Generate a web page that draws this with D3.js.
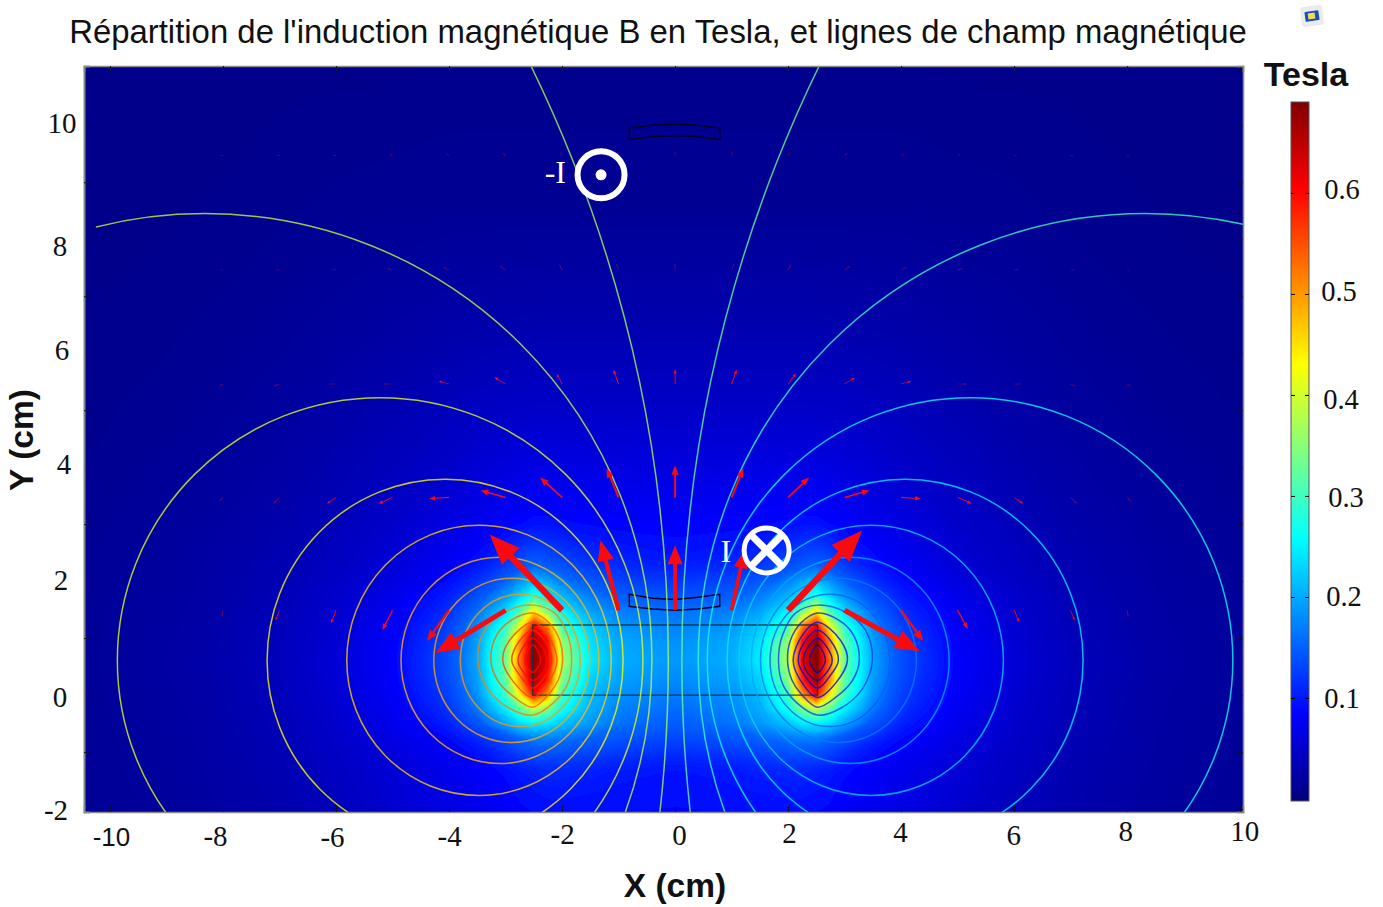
<!DOCTYPE html>
<html>
<head>
<meta charset="utf-8">
<script src="https://cdn.jsdelivr.net/npm/d3@7"></script>
<style>
  html, body { margin: 0; padding: 0; background: #fff; }
  svg { display: block; }
  text { font-family: "Liberation Serif", serif; fill: #111; }
</style>
</head>
<body>
<div id="chart"></div>
<script>
// |B| in Tesla. The map is mirror symmetric about x = 0, only x >= 0 is listed
var fieldX = [0, 1, 1.5, 2, 2.25, 2.5, 2.75, 3, 3.5, 4, 5, 6, 7, 8.5, 10.7];
var fieldY = [-2.2, -1.25, -0.75, -0.5, -0.25, 0, 0.25, 0.6, 0.95, 1.2, 1.45, 1.75, 2.25, 3, 4, 5, 6.5, 8.5, 11.2];
var fieldB = [
  [.088, .09, .09, .09, .09, .088, .085, .08, .074, .068, .054, .04, .031, .022, .014],
  [.1, .105, .11, .115, .115, .11, .105, .095, .085, .075, .06, .046, .035, .024, .015],
  [.135, .145, .155, .17, .175, .175, .16, .14, .11, .09, .068, .05, .037, .025, .015],
  [.15, .165, .19, .22, .245, .25, .235, .2, .145, .108, .074, .052, .038, .025, .015],
  [.16, .175, .205, .27, .34, .39, .32, .25, .17, .12, .078, .054, .039, .026, .016],
  [.17, .185, .215, .3, .5, .6, .43, .3, .185, .128, .082, .056, .04, .026, .016],
  [.18, .195, .23, .34, .58, .67, .5, .32, .195, .135, .085, .058, .041, .027, .016],
  [.19, .205, .25, .38, .62, .69, .52, .33, .2, .14, .087, .06, .042, .028, .016],
  [.185, .2, .24, .36, .6, .68, .5, .32, .195, .135, .085, .058, .041, .027, .016],
  [.175, .19, .225, .3, .52, .62, .42, .29, .185, .128, .082, .056, .04, .026, .016],
  [.165, .175, .2, .26, .35, .46, .32, .24, .165, .118, .078, .054, .039, .026, .016],
  [.14, .15, .17, .21, .25, .28, .23, .19, .14, .105, .072, .052, .038, .025, .015],
  [.105, .115, .125, .14, .15, .16, .145, .125, .1, .083, .06, .046, .035, .024, .015],
  [.085, .087, .09, .093, .095, .095, .09, .085, .075, .068, .052, .04, .031, .022, .014],
  [.065, .066, .067, .068, .068, .068, .066, .063, .058, .052, .042, .033, .026, .019, .012],
  [.05, .05, .05, .05, .05, .05, .049, .048, .046, .042, .034, .028, .022, .016, .011],
  [.033, .033, .033, .033, .033, .033, .032, .032, .03, .029, .025, .021, .017, .013, .01],
  [.016, .016, .016, .016, .016, .016, .016, .016, .016, .016, .015, .014, .012, .01, .009],
  [.01, .01, .01, .01, .01, .01, .01, .01, .01, .01, .009, .009, .009, .009, .009]
];

// outer field lines are close to ellipses around a point on y = 0.61, |x| of centre and radii in cm
var loopCenterY = 0.61;
var loopCenter = [24.12, 8.32, 5.22, 4.07, 3.47, 3.1, 2.89, 2.74];
var loopRadiusX = [24, 7.91, 4.65, 3.15, 2.34, 1.75, 1.38, 1.06];
var loopRadiusY = [23.79, 7.84, 4.61, 3.18, 2.37, 1.81, 1.44, 1.16];
// inner field lines next to the conductor, points are [|x|, y] in cm
var innerLines = [
  [[3.49, .61], [3.37, 1.14], [3.01, 1.46], [2.52, 1.58], [2.13, 1.44], [1.9, 1.05], [1.83, .61], [1.91, .18], [2.16, -.14], [2.52, -.35], [2.93, -.23], [3.32, .12]],
  [[3.26, .61], [3.16, 1.05], [2.89, 1.32], [2.52, 1.44], [2.22, 1.26], [2.04, .96], [1.99, .61], [2.07, .26], [2.25, 0], [2.52, -.21], [2.84, -.04], [3.14, .26]],
  [[3.05, .61], [2.93, .96], [2.52, 1.28], [2.25, 1.05], [2.09, .61], [2.22, .26], [2.52, -.04], [2.84, .21]],
  [[2.89, .61], [2.75, .96], [2.52, 1.14], [2.29, .93], [2.18, .61], [2.29, .35], [2.52, .12], [2.75, .35]],
  [[2.78, .61], [2.66, .88], [2.52, 1], [2.34, .82], [2.27, .61], [2.34, .4], [2.52, .26], [2.66, .37]],
  [[2.66, .61], [2.52, .88], [2.38, .61], [2.52, .4]]
];
// value of the colour scale each line takes, the ellipses first
var lineLevelLeft = [.37, .39, .41, .43, .46, .48, .49, .5, .52, .54, .56, .58, .6, .6];
var lineLevelRight = [.33, .3, .27, .25, .23, .2, .17, .15, .13, .11, .09, .07, .05, .03];

// force arrows, one row for every y, [dx, dy] in cm for every arrowX
var arrowX = [-8, -7, -6, -5, -4, -3, -2, -1, 0, 1, 2, 3, 4, 5, 6, 7, 8];
var arrowY = [1.49, 3.47, 5.46, 7.46, 9.47];
var arrowRows = [
  [[-.02, -.12], [-.07, -.18], [-.09, -.23], [-.18, -.35], [-.39, -.54], [-1.24, -.75], [-1.28, 1.33], [-.32, 1.23], [0, 1.14], [.23, 1.05], [1.31, 1.4], [1.33, -.72], [.39, -.54], [.18, -.33], [.09, -.21], [.07, -.18], [.02, -.12]],
  [[-.07, -.07], [-.11, -.11], [-.16, -.11], [-.25, -.11], [-.35, -.02], [-.44, .12], [-.39, .35], [-.21, .51], [0, .56], [.21, .51], [.37, .35], [.44, .12], [.35, -.02], [.25, -.11], [.16, -.11], [.11, -.11], [.07, -.07]],
  [[-.07, -.04], [-.11, -.04], [-.12, 0], [-.16, 0], [-.18, .05], [-.2, .12], [-.09, .18], [-.09, .25], [0, .26], [.09, .25], [.14, .19], [.18, .11], [.18, .05], [.16, 0], [.12, 0], [.09, -.04], [.07, -.04]],
  [[-.05, 0], [-.07, 0], [-.08, .02], [-.09, .03], [-.1, .05], [-.1, .07], [-.05, .1], [-.04, .11], [0, .12], [.04, .11], [.05, .1], [.1, .07], [.1, .05], [.09, .03], [.08, .02], [.07, 0], [.05, 0]],
  [[-.04, 0], [-.05, 0], [-.05, .01], [-.05, .02], [-.05, .03], [-.05, .04], [-.03, .06], [-.02, .07], [0, .08], [.02, .07], [.03, .06], [.05, .04], [.05, .03], [.05, .02], [.05, .01], [.05, 0], [.04, 0]]
];

// outline of the coil frame and the two sliding pieces
var frameOutline = [[-2.52, 0], [2.52, 0], [2.52, 1.23], [-2.52, 1.23]];
var upperPiece = [[-.81, 9.95], [-.4, 10], [0, 10.02], [.4, 10], [.79, 9.95], [.79, 9.75], [.4, 9.8], [0, 9.82], [-.4, 9.8], [-.81, 9.75]];
var lowerPiece = [[-.81, 1.77], [-.4, 1.7], [0, 1.68], [.4, 1.72], [.79, 1.77], [.79, 1.56], [.4, 1.51], [0, 1.49], [-.4, 1.51], [-.81, 1.56]];

var xTicks = [-10, -8, -6, -4, -2, 0, 2, 4, 6, 8, 10];
var yTicks = [-2, 0, 2, 4, 6, 8, 10];
var yMinorTicks = [-1, 1, 3, 5, 7, 9];
var barTicks = [.1, .2, .3, .4, .5, .6];
var colorStops = [0, .086, .259, .431, .604, .69];
var colorNames = ["#000080", "#0000ff", "#00ffff", "#ffff00", "#ff0000", "#800000"];

var svgWidth = 1383;
var svgHeight = 907;
var plot = { left: 84, right: 1243, top: 66, bottom: 812 };

var svg = d3.select("#chart").append("svg")
  .attr("width", svgWidth)
  .attr("height", svgHeight);

var x = d3.scaleLinear().domain([-10.46, 10.05]).range([plot.left, plot.right]);
var y = d3.scaleLinear().domain([-2.05, 11.04]).range([plot.bottom, plot.top]);
var color = d3.scaleLinear().domain(colorStops).range(colorNames).clamp(true);

var defs = svg.append("defs");
defs.append("clipPath").attr("id", "plotClip").append("rect")
  .attr("x", plot.left).attr("y", plot.top)
  .attr("width", plot.right - plot.left).attr("height", plot.bottom - plot.top);
// the mesh stops a little inside the left edge, so do the field lines
defs.append("clipPath").attr("id", "lineClip").append("rect")
  .attr("x", x(-10.25)).attr("y", plot.top)
  .attr("width", plot.right - x(-10.25)).attr("height", plot.bottom - plot.top);
function addBlur(id, sd) {
  defs.append("filter").attr("id", id)
    .attr("filterUnits", "userSpaceOnUse")
    .attr("x", 0).attr("y", 0).attr("width", svgWidth).attr("height", svgHeight)
    .append("feGaussianBlur").attr("stdDeviation", sd);
}
addBlur("softFar", 7);
addBlur("softNear", 1.2);

var chart = svg.append("g").attr("clip-path", "url(#plotClip)");

// background map, filled contours of the grid
var fullX = fieldX.slice(1).reverse().map(d => -d).concat(fieldX);
var flat = [];
fieldB.forEach(function(row) {
  row.slice(1).reverse().concat(row).forEach(d => flat.push(d));
});
var nx = fullX.length;
var ny = fieldY.length;
var gridX = d3.scaleLinear().domain(d3.range(nx).map(i => i + 0.5)).range(fullX).clamp(true);
var gridY = d3.scaleLinear().domain(d3.range(ny).map(i => i + 0.5)).range(fieldY).clamp(true);
var gridPath = d3.geoPath(d3.geoTransform({
  point: function(a, b) { this.stream.point(x(gridX(a)), y(gridY(b))); }
}));
var contours = d3.contours().size([nx, ny]).thresholds(d3.range(.004, .69, .003))(flat);

chart.append("rect")
  .attr("x", plot.left).attr("y", plot.top)
  .attr("width", plot.right - plot.left).attr("height", plot.bottom - plot.top)
  .attr("fill", color(.008));
// far field gets a wide blur so the grid facets do not show
chart.append("g").attr("filter", "url(#softFar)")
  .selectAll("path").data(contours.filter(d => d.value < .16)).enter().append("path")
  .attr("d", gridPath)
  .attr("fill", d => color(d.value));
chart.append("g").attr("filter", "url(#softNear)")
  .selectAll("path").data(contours.filter(d => d.value >= .16)).enter().append("path")
  .attr("d", gridPath)
  .attr("fill", d => color(d.value));

// coil frame
var lineOf = d3.line().x(d => x(d[0])).y(d => y(d[1]));
chart.append("path")
  .attr("d", lineOf(frameOutline) + "Z")
  .attr("fill", "none").attr("stroke", "#10303a").attr("stroke-width", 1.4).attr("opacity", .85);
[upperPiece, lowerPiece].forEach(function(p) {
  chart.append("path")
    .attr("d", lineOf(p) + "Z")
    .attr("fill", "none").attr("stroke", "#000020").attr("stroke-width", 1.5);
});

// field lines
var lines = chart.append("g").attr("clip-path", "url(#lineClip)")
  .attr("fill", "none").attr("stroke-opacity", .78).attr("stroke-width", 1.5);
var sides = [[-1, lineLevelLeft], [1, lineLevelRight]];
sides.forEach(function(s) {
  loopCenter.forEach(function(c, i) {
    lines.append("ellipse")
      .attr("cx", x(s[0] * c))
      .attr("cy", y(loopCenterY))
      .attr("rx", x(loopRadiusX[i]) - x(0))
      .attr("ry", y(0) - y(loopRadiusY[i]))
      .attr("stroke", color(s[1][i]));
  });
  var closedCurve = d3.line().x(d => x(s[0] * d[0])).y(d => y(d[1])).curve(d3.curveCatmullRomClosed.alpha(.5));
  innerLines.forEach(function(p, i) {
    lines.append("path")
      .attr("d", closedCurve(p))
      .attr("stroke", color(s[1][i + loopCenter.length]));
  });
});

// arrows, shaft and head scale with the length
arrowRows.forEach(function(row, r) {
  row.forEach(function(v, i) {
    var x0 = x(arrowX[i]), y0 = y(arrowY[r]);
    var x1 = x(arrowX[i] + v[0]), y1 = y(arrowY[r] + v[1]);
    var len = Math.hypot(x1 - x0, y1 - y0);
    if (len === 0) return;
    var ux = (x1 - x0) / len, uy = (y1 - y0) / len;
    var sw = Math.max(len * .03, .35), hw = len * .115, hl = len * .29;
    var bx = x1 - ux * hl, by = y1 - uy * hl;
    var pts = [
      [x0 - uy * sw, y0 + ux * sw], [bx - uy * sw, by + ux * sw],
      [bx - uy * hw, by + ux * hw], [x1, y1],
      [bx + uy * hw, by - ux * hw], [bx + uy * sw, by - ux * sw],
      [x0 + uy * sw, y0 - ux * sw]
    ];
    chart.append("path")
      .attr("d", d3.line()(pts) + "Z")
      .attr("fill", "#f80a10")
      .attr("opacity", len < 10 ? .55 : 1);
  });
});

// current markers
var upMark = chart.append("g").attr("transform", `translate(${x(-1.31)},${y(9.13)})`);
upMark.append("circle").attr("r", 23.5).attr("fill", "none").attr("stroke", "#fff").attr("stroke-width", 6);
upMark.append("circle").attr("r", 5.5).attr("fill", "#fff");
chart.append("text").attr("x", x(-2.12)).attr("y", y(9.17)).attr("dy", ".33em")
  .attr("font-size", 32).attr("text-anchor", "middle").style("fill", "#fff").text("-I");

var downMark = chart.append("g").attr("transform", `translate(${x(1.62)},${y(2.54)})`);
downMark.append("circle").attr("r", 22.5).attr("fill", "none").attr("stroke", "#fff").attr("stroke-width", 5);
[[-15, -15, 15, 15], [-15, 15, 15, -15]].forEach(function(c) {
  downMark.append("line").attr("x1", c[0]).attr("y1", c[1]).attr("x2", c[2]).attr("y2", c[3])
    .attr("stroke", "#fff").attr("stroke-width", 7);
});
chart.append("text").attr("x", x(.9)).attr("y", y(2.52)).attr("dy", ".33em")
  .attr("font-size", 32).attr("text-anchor", "middle").style("fill", "#fff").text("I");

// axes, the tick labels sit a bit off their ticks in the original
var xLabelDx = [1, -8, -4, 0, 0, 4, 1, -1, -1, -2, 4];
var xLabelY = [837, 836, 837, 836, 834, 835, 833, 832, 835, 831, 831];
var yLabelX = [56, 60, 61, 64, 62, 60, 62];
var yLabelY = [810, 697, 580, 464, 350, 246, 123];

var noLabel = () => "";
var frame = svg.append("g");
var bottomAxis = frame.append("g").attr("transform", `translate(0,${plot.bottom})`)
  .call(d3.axisBottom(x).tickValues(xTicks).tickSize(-6).tickFormat(d => String(d)));
frame.append("g").attr("transform", `translate(0,${plot.top})`)
  .call(d3.axisTop(x).tickValues(xTicks).tickSize(-6).tickFormat(noLabel));
var leftAxis = frame.append("g").attr("transform", `translate(${plot.left},0)`)
  .call(d3.axisLeft(y).tickValues(yTicks).tickSize(-6).tickFormat(d => String(d)));
frame.append("g").attr("transform", `translate(${plot.left},0)`)
  .call(d3.axisLeft(y).tickValues(yMinorTicks).tickSize(-5).tickFormat(noLabel));
frame.append("g").attr("transform", `translate(${plot.right},0)`)
  .call(d3.axisRight(y).tickValues(yTicks.concat(yMinorTicks)).tickSize(-6).tickFormat(noLabel));
frame.selectAll(".domain").attr("stroke", "#8a8a8a").attr("stroke-width", 1.6);
frame.selectAll(".tick line").attr("stroke", "#101030");

bottomAxis.selectAll("text")
  .attr("font-size", 29)
  .attr("x", (d, i) => xLabelDx[i])
  .attr("y", (d, i) => xLabelY[i] - plot.bottom)
  .attr("dy", ".33em")
  .style("font-family", d => d === -10 ? '"Liberation Sans", sans-serif' : null)
  .attr("font-size", d => d === -10 ? 26 : 29)
  .style("fill", "#111");
leftAxis.selectAll("text")
  .attr("font-size", 29)
  .attr("text-anchor", "middle")
  .attr("x", (d, i) => yLabelX[i] - plot.left)
  .attr("dy", ".33em")
  .attr("transform", (d, i) => `translate(0,${yLabelY[i] - y(d)})`)
  .style("fill", "#111");

svg.append("text")
  .attr("x", 658).attr("y", 43).attr("text-anchor", "middle")
  .attr("font-size", 32.9)
  .style("font-family", '"Liberation Sans", sans-serif')
  .text("Répartition de l'induction magnétique B en Tesla, et lignes de champ magnétique");
svg.append("text")
  .attr("x", 675).attr("y", 897).attr("text-anchor", "middle")
  .attr("font-size", 33.5).attr("font-weight", "bold")
  .style("font-family", '"Liberation Sans", sans-serif')
  .text("X (cm)");
svg.append("text")
  .attr("transform", "translate(33,440) rotate(-90)").attr("text-anchor", "middle")
  .attr("font-size", 33.5).attr("font-weight", "bold")
  .style("font-family", '"Liberation Sans", sans-serif')
  .text("Y (cm)");
svg.append("text")
  .attr("x", 1306).attr("y", 86).attr("text-anchor", "middle")
  .attr("font-size", 34).attr("font-weight", "bold")
  .style("font-family", '"Liberation Sans", sans-serif')
  .text("Tesla");

// colour bar
var bar = { left: 1291, right: 1309, top: 102, bottom: 801 };
var barScale = d3.scaleLinear().domain([-.002, .69]).range([bar.bottom, bar.top]);
var gradient = defs.append("linearGradient").attr("id", "jet")
  .attr("x1", 0).attr("y1", 1).attr("x2", 0).attr("y2", 0);
gradient.selectAll("stop").data(colorStops).enter().append("stop")
  .attr("offset", d => d / .69)
  .attr("stop-color", d => color(d));
svg.append("rect")
  .attr("x", bar.left).attr("y", bar.top)
  .attr("width", bar.right - bar.left).attr("height", bar.bottom - bar.top)
  .attr("fill", "url(#jet)")
  .attr("stroke", "#555").attr("stroke-width", 1);
var barLabelX = [1342, 1344, 1346, 1341, 1339, 1342];
var barLabelY = [698, 596, 497, 399, 291, 189];
var barAxis = svg.append("g").attr("transform", `translate(${bar.left},0)`)
  .call(d3.axisLeft(barScale).tickValues(barTicks).tickSize(-4).tickFormat(d3.format(".1f")));
svg.append("g").attr("transform", `translate(${bar.right},0)`)
  .call(d3.axisRight(barScale).tickValues(barTicks).tickSize(-4).tickFormat(noLabel))
  .select(".domain").remove();
barAxis.select(".domain").remove();
barAxis.selectAll("text")
  .attr("font-size", 28.5)
  .attr("text-anchor", "middle")
  .attr("x", (d, i) => barLabelX[i] - bar.left)
  .attr("dy", ".33em")
  .attr("transform", (d, i) => `translate(0,${barLabelY[i] - barScale(d)})`)
  .style("fill", "#111");

// little window icon top right
var icon = svg.append("g").attr("transform", "translate(1312,16) rotate(-8)");
icon.append("rect").attr("x", -11).attr("y", -10).attr("width", 22).attr("height", 20).attr("rx", 3)
  .attr("fill", "#e3e6ea").attr("opacity", .8);
icon.append("rect").attr("x", -7).attr("y", -5).attr("width", 14).attr("height", 10).attr("rx", 1).attr("fill", "#1a4fb0");
icon.append("rect").attr("x", -4).attr("y", -3).attr("width", 7).attr("height", 6).attr("fill", "#f0d860");
</script>
</body>
</html>
